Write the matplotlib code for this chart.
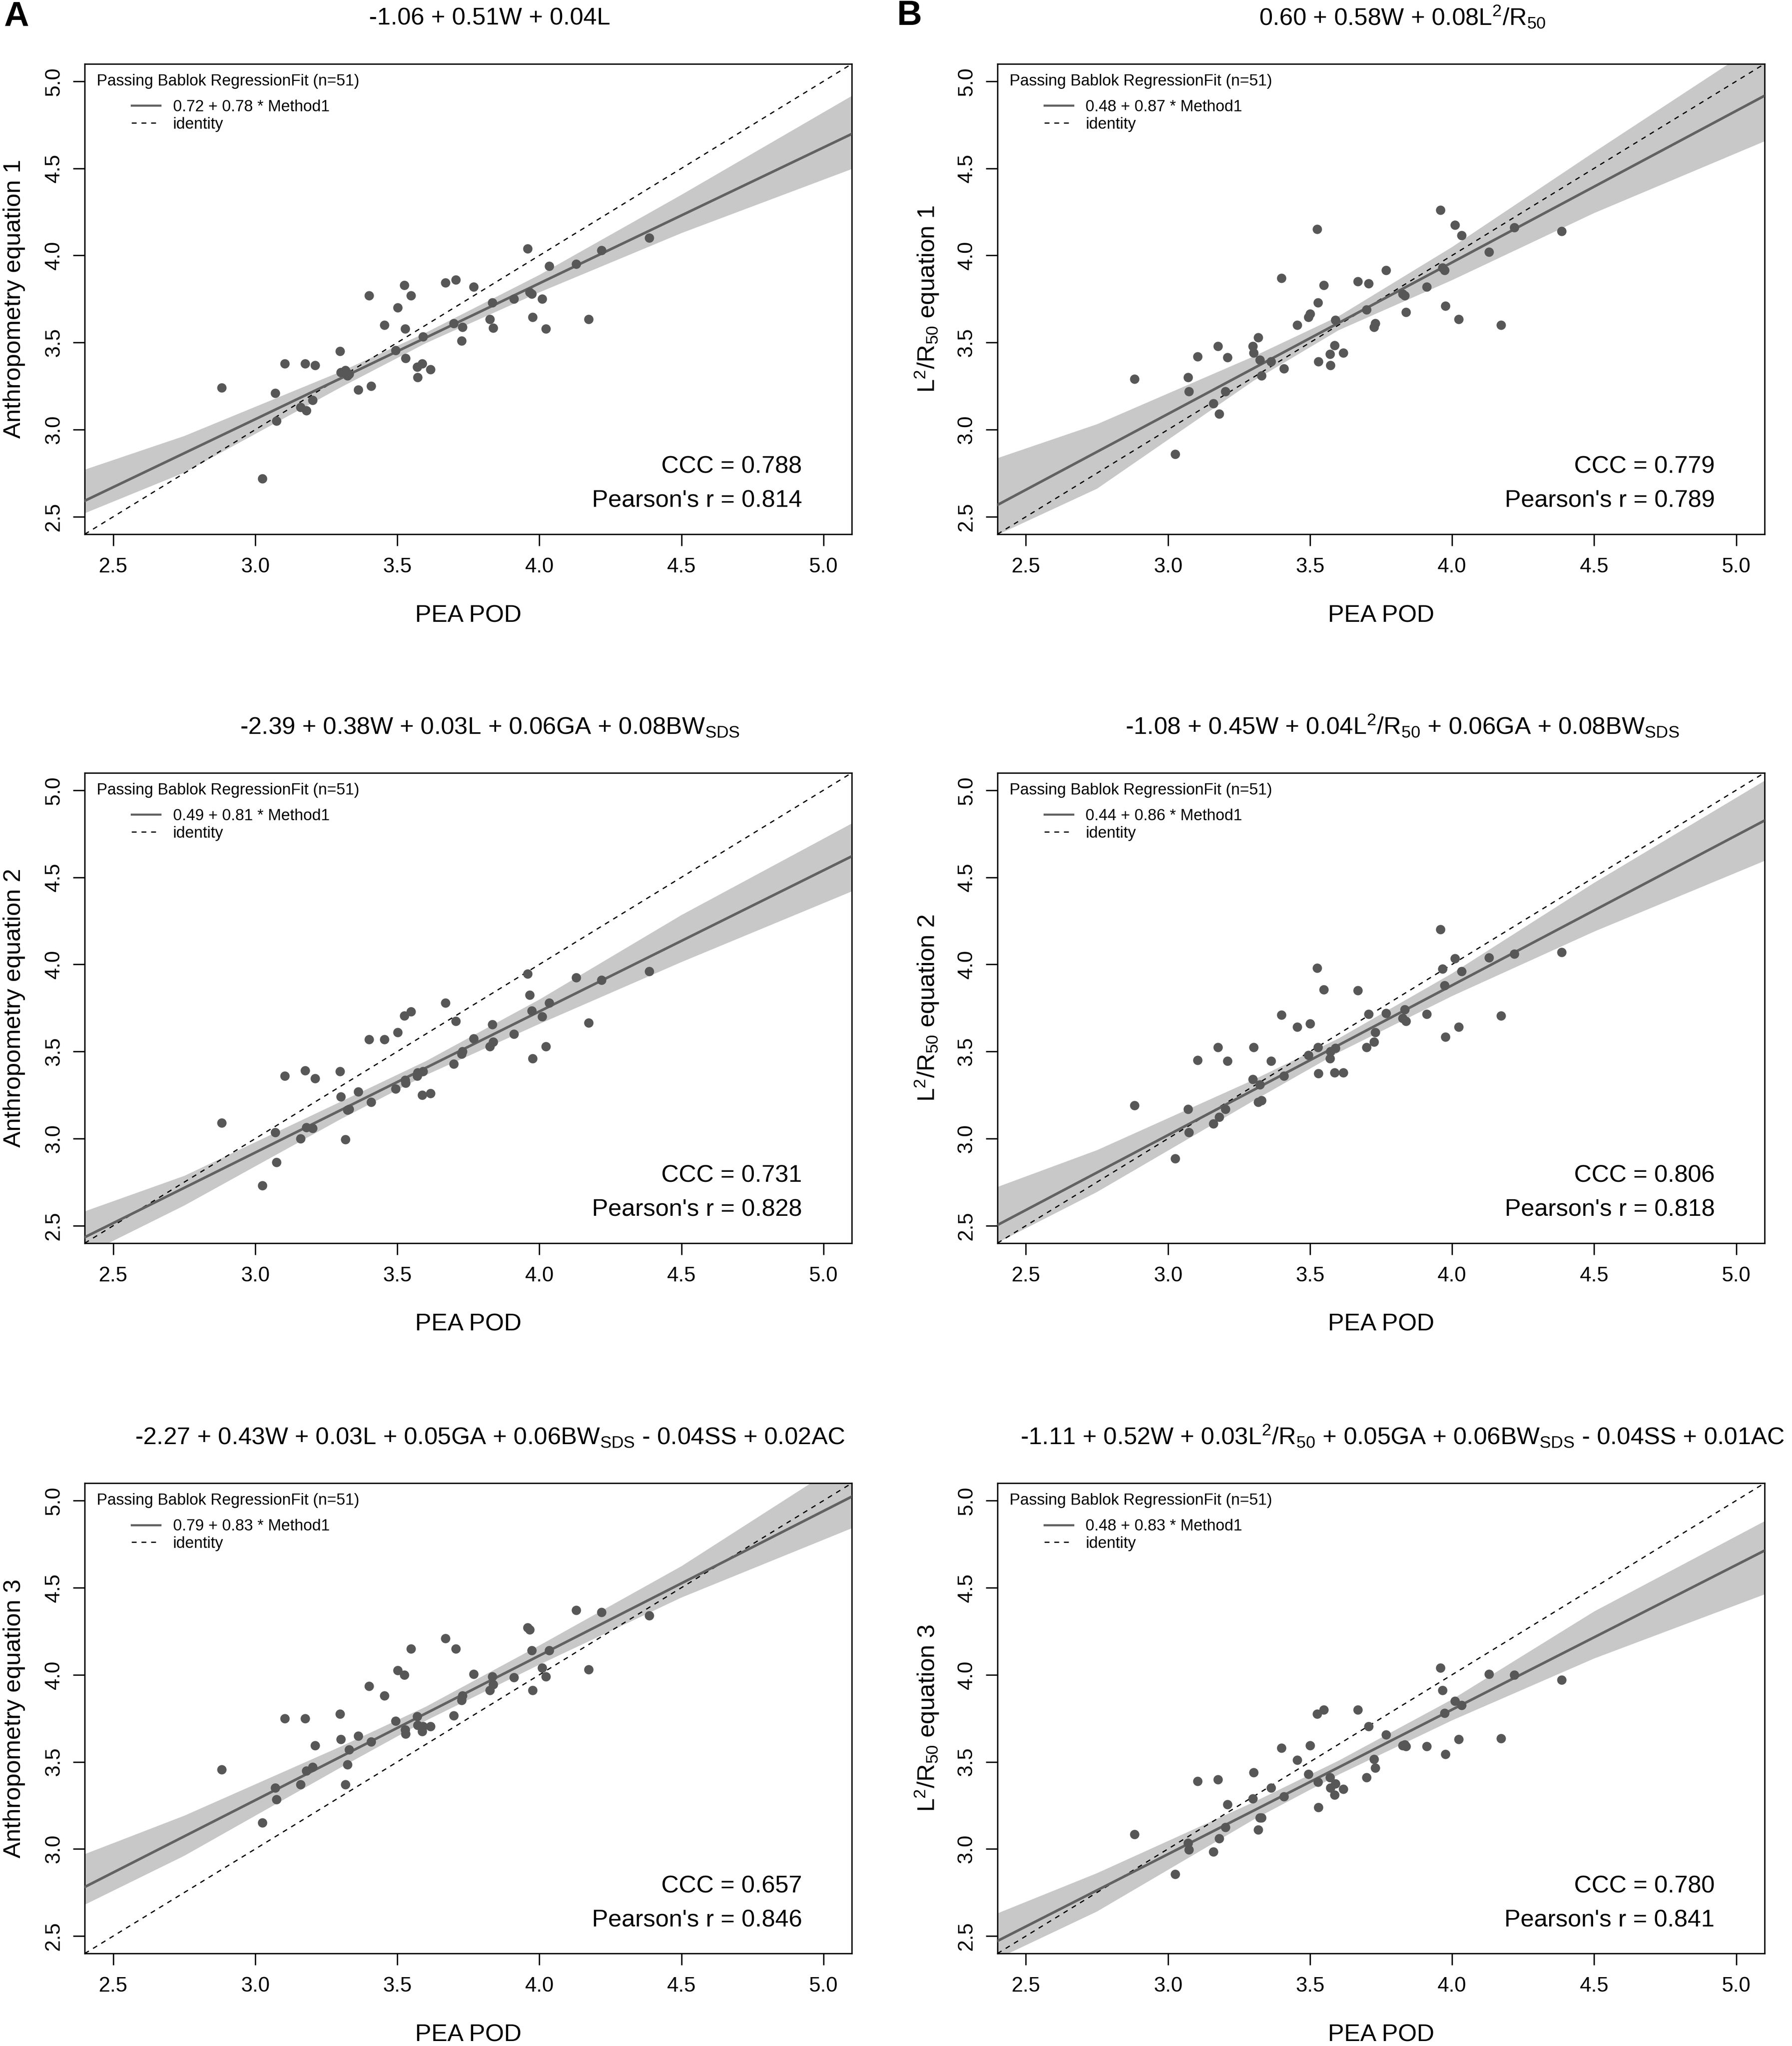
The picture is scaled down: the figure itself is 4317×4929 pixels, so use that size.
import matplotlib
matplotlib.use('Agg')
import matplotlib.pyplot as plt
from matplotlib.lines import Line2D
import numpy as np

plt.rcParams['font.family'] = ['Liberation Sans', 'DejaVu Sans']
plt.rcParams['mathtext.fontset'] = 'custom'
plt.rcParams['mathtext.rm'] = 'Liberation Sans'
plt.rcParams['mathtext.it'] = 'Liberation Sans:italic'
plt.rcParams['mathtext.bf'] = 'Liberation Sans:bold'

# PEA POD reference values (same 51 infants in every panel)
pea_pod = [2.882, 3.025, 3.071, 3.074, 3.104, 3.160, 3.176, 3.180, 3.202, 3.210,
           3.298, 3.301, 3.317, 3.324, 3.330, 3.363, 3.400, 3.408, 3.455, 3.494,
           3.501, 3.525, 3.528, 3.529, 3.548, 3.570, 3.572, 3.587, 3.590, 3.617,
           3.669, 3.699, 3.706, 3.726, 3.729, 3.768, 3.826, 3.834, 3.838, 3.911,
           3.959, 3.966, 3.973, 3.976, 4.010, 4.023, 4.034, 4.130, 4.173, 4.219,
           4.386]

anthro_eq1 = [3.24, 2.72, 3.21, 3.05, 3.38, 3.13, 3.38, 3.11, 3.17, 3.37,
              3.45, 3.33, 3.34, 3.31, 3.32, 3.23, 3.77, 3.25, 3.60, 3.455,
              3.70, 3.83, 3.58, 3.41, 3.77, 3.36, 3.30, 3.38, 3.535, 3.345,
              3.845, 3.61, 3.86, 3.51, 3.59, 3.82, 3.635, 3.73, 3.585, 3.75,
              4.04, 3.79, 3.78, 3.645, 3.75, 3.58, 3.94, 3.95, 3.635, 4.03,
              4.10]
lr_eq1 = [3.29, 2.86, 3.30, 3.22, 3.42, 3.15, 3.48, 3.09, 3.22, 3.415,
          3.48, 3.44, 3.53, 3.40, 3.31, 3.39, 3.87, 3.35, 3.60, 3.645,
          3.665, 4.15, 3.73, 3.39, 3.83, 3.435, 3.37, 3.485, 3.63, 3.44,
          3.85, 3.69, 3.84, 3.59, 3.61, 3.915, 3.78, 3.77, 3.675, 3.82,
          4.26, 3.93, 3.915, 3.71, 4.175, 3.635, 4.115, 4.02, 3.60, 4.16,
          4.14]
anthro_eq2 = [3.09, 2.73, 3.035, 2.865, 3.36, 3.00, 3.39, 3.065, 3.06, 3.345,
              3.385, 3.24, 2.995, 3.165, 3.17, 3.27, 3.57, 3.21, 3.57, 3.285,
              3.61, 3.705, 3.335, 3.32, 3.73, 3.36, 3.38, 3.25, 3.385, 3.26,
              3.78, 3.43, 3.675, 3.485, 3.50, 3.575, 3.53, 3.655, 3.555, 3.60,
              3.945, 3.825, 3.735, 3.46, 3.70, 3.53, 3.78, 3.925, 3.665, 3.91,
              3.96]
lr_eq2 = [3.19, 2.885, 3.17, 3.035, 3.45, 3.085, 3.525, 3.125, 3.17, 3.445,
          3.34, 3.525, 3.21, 3.31, 3.22, 3.445, 3.71, 3.36, 3.64, 3.48,
          3.66, 3.98, 3.525, 3.375, 3.855, 3.46, 3.50, 3.38, 3.52, 3.38,
          3.85, 3.525, 3.715, 3.555, 3.61, 3.72, 3.69, 3.74, 3.675, 3.715,
          4.20, 3.975, 3.88, 3.585, 4.035, 3.64, 3.96, 4.04, 3.705, 4.06,
          4.07]
anthro_eq3 = [3.455, 3.15, 3.35, 3.285, 3.75, 3.37, 3.75, 3.45, 3.47, 3.595,
              3.775, 3.63, 3.37, 3.485, 3.57, 3.65, 3.935, 3.615, 3.88, 3.735,
              4.025, 4.00, 3.685, 3.66, 4.15, 3.76, 3.71, 3.675, 3.705, 3.705,
              4.21, 3.765, 4.15, 3.855, 3.88, 4.005, 3.91, 3.99, 3.945, 3.985,
              4.27, 4.26, 4.14, 3.91, 4.04, 3.99, 4.14, 4.37, 4.03, 4.36,
              4.34]
lr_eq3 = [3.085, 2.855, 3.035, 2.995, 3.39, 2.985, 3.40, 3.06, 3.125, 3.255,
          3.29, 3.44, 3.11, 3.18, 3.18, 3.35, 3.58, 3.30, 3.51, 3.43,
          3.595, 3.775, 3.385, 3.24, 3.80, 3.41, 3.35, 3.31, 3.375, 3.345,
          3.80, 3.41, 3.705, 3.515, 3.465, 3.655, 3.595, 3.60, 3.59, 3.59,
          4.04, 3.91, 3.78, 3.545, 3.85, 3.63, 3.825, 4.005, 3.635, 4.00,
          3.97]

# Passing-Bablok fits (intercept, slope)
fits = [(0.72, 0.78), (0.48, 0.87), (0.49, 0.81), (0.44, 0.86), (0.79, 0.83), (0.48, 0.83)]

# confidence band: distance above / below the fit line at these x
band_x = [2.4, 2.75, 3.3, 3.6, 4.0, 4.5, 5.1]
band_up = [[0.18, 0.10, 0.04, 0.03, 0.05, 0.12, 0.22],
           [0.27, 0.16, 0.07, 0.04, 0.09, 0.20, 0.32],
           [0.15, 0.07, 0.05, 0.04, 0.07, 0.15, 0.19],
           [0.22, 0.13, 0.06, 0.04, 0.07, 0.16, 0.23],
           [0.19, 0.12, 0.06, 0.04, 0.06, 0.10, 0.23],
           [0.16, 0.10, 0.05, 0.04, 0.06, 0.15, 0.17]]
band_lo = [[0.07, 0.11, 0.05, 0.03, 0.05, 0.10, 0.20],
           [0.17, 0.21, 0.07, 0.04, 0.10, 0.15, 0.26],
           [0.10, 0.10, 0.05, 0.04, 0.07, 0.12, 0.20],
           [0.10, 0.11, 0.06, 0.04, 0.06, 0.12, 0.23],
           [0.10, 0.11, 0.06, 0.04, 0.05, 0.08, 0.18],
           [0.10, 0.12, 0.05, 0.04, 0.06, 0.12, 0.25]]

ccc = ['0.788', '0.779', '0.731', '0.806', '0.657', '0.780']
pearson = ['0.814', '0.789', '0.828', '0.818', '0.846', '0.841']

titles = ['-1.06 + 0.51W + 0.04L',
          '0.60 + 0.58W + 0.08L$^2$/R$_{50}$',
          '-2.39 + 0.38W + 0.03L + 0.06GA + 0.08BW$_{\\mathrm{SDS}}$',
          '-1.08 + 0.45W + 0.04L$^2$/R$_{50}$ + 0.06GA + 0.08BW$_{\\mathrm{SDS}}$',
          '-2.27 + 0.43W + 0.03L + 0.05GA + 0.06BW$_{\\mathrm{SDS}}$ - 0.04SS + 0.02AC',
          '-1.11 + 0.52W + 0.03L$^2$/R$_{50}$ + 0.05GA + 0.06BW$_{\\mathrm{SDS}}$ - 0.04SS + 0.01AC']
ylabels = ['Anthropometry equation 1', 'L$^2$/R$_{50}$ equation 1',
           'Anthropometry equation 2', 'L$^2$/R$_{50}$ equation 2',
           'Anthropometry equation 3', 'L$^2$/R$_{50}$ equation 3']
series = [anthro_eq1, lr_eq1, anthro_eq2, lr_eq2, anthro_eq3, lr_eq3]

ticks = [2.5, 3.0, 3.5, 4.0, 4.5, 5.0]
tick_labels = ['2.5', '3.0', '3.5', '4.0', '4.5', '5.0']
lims = (2.4, 5.1)

line_col = '#626262'
band_col = '#c8c8c8'
pt_col = '#575757'

fig = plt.figure(figsize=(4317 / 300, 4929 / 300), dpi=300)

lefts = [0.0473, 0.5566]
bottoms = [0.7389, 0.3924, 0.0452]
w, h = 0.4281, 0.2299

for i in range(6):
    row, col = i // 2, i % 2
    ax = fig.add_axes([lefts[col], bottoms[row], w, h])
    a, b = fits[i]
    bx = np.array(band_x)
    fit_line = a + b * bx
    ax.fill_between(bx, fit_line - np.array(band_lo[i]), fit_line + np.array(band_up[i]),
                    color=band_col, lw=0, zorder=1)
    ax.plot(lims, lims, color='black', lw=0.7, dashes=(4, 4), zorder=2)
    ax.plot(bx, fit_line, color=line_col, lw=1.5, zorder=3)
    ax.plot(pea_pod, series[i], 'o', ms=5.4, color=pt_col, mec='none', zorder=4)

    ax.set_xlim(lims)
    ax.set_ylim(lims)
    ax.set_xticks(ticks)
    ax.set_xticklabels(tick_labels)
    ax.set_yticks(ticks)
    ax.set_yticklabels(tick_labels)
    ax.tick_params(direction='out', length=6.7, width=0.8, labelsize=12)
    ax.tick_params(axis='x', pad=6.8)
    ax.tick_params(axis='y', pad=5.6, labelrotation=90)
    for lab in ax.get_yticklabels():
        lab.set_va('center')
    for sp in ax.spines.values():
        sp.set_linewidth(0.8)

    ax.set_xlabel('PEA POD', fontsize=14, va='center')
    ax.xaxis.set_label_coords(0.5, -0.173)
    ax.set_ylabel(ylabels[i], fontsize=14, va='center')
    ax.yaxis.set_label_coords(-0.092, 0.5)

    ax.text(0.528, 1.083, titles[i], transform=ax.transAxes, ha='center', va='baseline', fontsize=14)

    ax.text(0.0157, 0.963, 'Passing Bablok RegressionFit (n=51)', transform=ax.transAxes,
            ha='left', va='center', fontsize=9.2)
    handles = [Line2D([], [], color=line_col, lw=1.2),
               Line2D([], [], color='black', lw=0.7, dashes=(4, 4))]
    labels = ['%.2f + %.2f * Method1' % (a, b), 'identity']
    ax.legend(handles, labels, loc='upper left', bbox_to_anchor=(0.061, 0.924), frameon=False,
              fontsize=9.2, handlelength=1.8, handletextpad=0.8, labelspacing=0.15,
              borderpad=0, borderaxespad=0)

    ax.text(0.935, 0.143, 'CCC = ' + ccc[i], transform=ax.transAxes, ha='right', va='center', fontsize=14)
    ax.text(0.935, 0.0706, "Pearson's r = " + pearson[i], transform=ax.transAxes,
            ha='right', va='center', fontsize=14)

fig.text(40 / 4317, 1 - 40 / 4929, 'A', ha='center', va='center', fontsize=20, fontweight='bold')
fig.text(2190 / 4317, 1 - 38 / 4929, 'B', ha='center', va='center', fontsize=20, fontweight='bold')

fig.savefig('out.png', dpi=300, facecolor='white')
